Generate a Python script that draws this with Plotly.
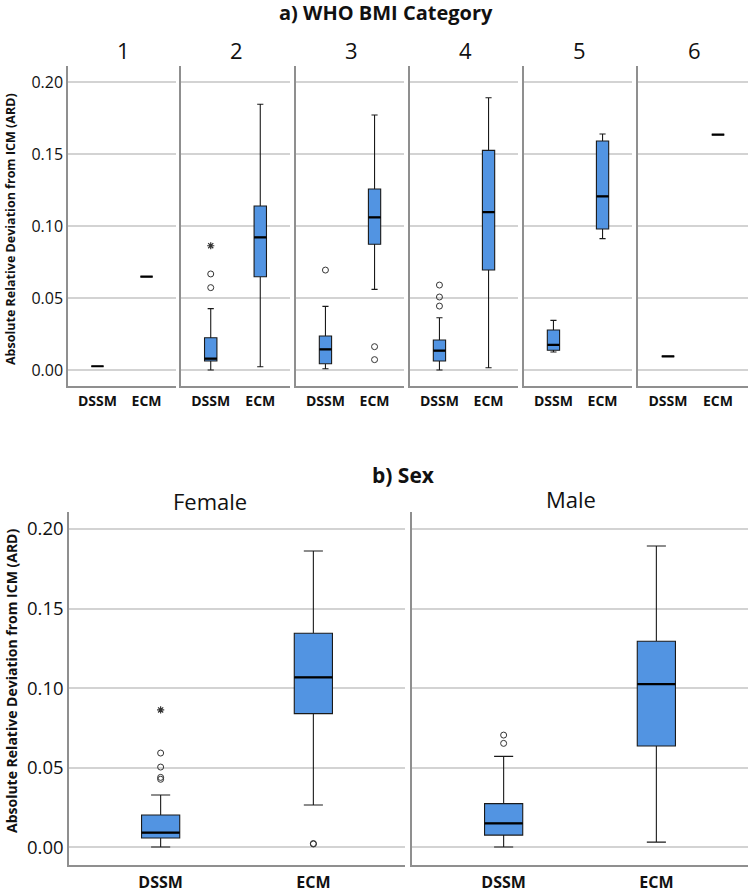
import plotly.graph_objects as go

W, H = 749, 892

METHODS = ["DSSM", "ECM"]

# ---- a) WHO BMI Category ----
BMI_CATEGORIES = ["1", "2", "3", "4", "5", "6"]
dssm_low  = [0.0026, 0.0000, 0.0009, 0.0000, 0.0125, 0.0095]
dssm_q1   = [0.0026, 0.0063, 0.0044, 0.0063, 0.0137, 0.0095]
dssm_med  = [0.0026, 0.0079, 0.0144, 0.0134, 0.0174, 0.0095]
dssm_q3   = [0.0026, 0.0224, 0.0236, 0.0208, 0.0278, 0.0095]
dssm_high = [0.0026, 0.0426, 0.0442, 0.0363, 0.0345, 0.0095]
ecm_low   = [0.0648, 0.0023, 0.0560, 0.0016, 0.0912, 0.1634]
ecm_q1    = [0.0648, 0.0648, 0.0873, 0.0694, 0.0979, 0.1634]
ecm_med   = [0.0648, 0.0921, 0.1060, 0.1097, 0.1206, 0.1634]
ecm_q3    = [0.0648, 0.1139, 0.1257, 0.1525, 0.1590, 0.1634]
ecm_high  = [0.0648, 0.1845, 0.1771, 0.1891, 0.1639, 0.1634]
dssm_outliers = [[], [0.0667, 0.0572], [0.0694], [0.0590, 0.0507, 0.0444], [], []]
dssm_extremes = [[], [0.0863], [], [], [], []]
ecm_outliers  = [[], [], [0.0162, 0.0072], [], [], []]
ecm_extremes  = [[], [], [], [], [], []]

# ---- b) Sex ----
SEX = ["Female", "Male"]
sx_dssm_low  = [0.0000, 0.0000]
sx_dssm_q1   = [0.0057, 0.0075]
sx_dssm_med  = [0.0090, 0.0149]
sx_dssm_q3   = [0.0201, 0.0273]
sx_dssm_high = [0.0327, 0.0570]
sx_ecm_low   = [0.0264, 0.0031]
sx_ecm_q1    = [0.0839, 0.0635]
sx_ecm_med   = [0.1067, 0.1025]
sx_ecm_q3    = [0.1344, 0.1294]
sx_ecm_high  = [0.1862, 0.1893]
sx_dssm_outliers = [[0.0591, 0.0503, 0.0438, 0.0426], [0.0704, 0.0652]]
sx_dssm_extremes = [[0.0862], []]
sx_ecm_outliers  = [[0.0019, 0.0022], []]
sx_ecm_extremes  = [[], []]

Y_TICKS = [0.0, 0.05, 0.10, 0.15, 0.20]
Y_TITLE = "Absolute Relative Deviation from ICM (ARD)"

BOX_FILL = "rgb(82,148,226)"
BOX_LINE = "#1a1a1a"
GRID = "#d3d3d3"
AXLINE = "#8f8f8f"
FONT = "Open Sans"

fig = go.Figure()

def px_x(p):
    return p / W

def px_y(p):
    return 1 - p / H

top_dom_x = [(68, 176), (181, 290), (296, 404), (410, 518), (524, 632), (638, 748)]
top_dom_y = (66, 386)
bot_dom_x = [(69, 405), (412, 748)]
bot_dom_y = (512, 865)

def add_panel(idx, low, q1, med, q3, high, outl, extr):
    xa = "x" if idx == 1 else f"x{idx}"
    ya = "y" if idx == 1 else f"y{idx}"
    fig.add_trace(go.Box(
        x=METHODS, q1=q1, median=med, q3=q3, lowerfence=low, upperfence=high,
        boxpoints=False, fillcolor=BOX_FILL, line=dict(color=BOX_LINE, width=1.1),
        width=0.25, whiskerwidth=0.5, xaxis=xa, yaxis=ya, showlegend=False,
        hoverinfo="skip"))
    # thicker median line drawn as a degenerate box at the median
    fig.add_trace(go.Box(
        x=METHODS, q1=med, median=med, q3=med, lowerfence=med, upperfence=med,
        boxpoints=False, fillcolor="rgba(0,0,0,0)", line=dict(color="#000", width=2.2),
        width=0.25, whiskerwidth=0.5, xaxis=xa, yaxis=ya, showlegend=False,
        hoverinfo="skip"))
    ox, oy, ex, ey = [], [], [], []
    for m, lst in zip(METHODS, outl):
        ox += [m] * len(lst); oy += lst
    for m, lst in zip(METHODS, extr):
        ex += [m] * len(lst); ey += lst
    if oy:
        fig.add_trace(go.Scatter(x=ox, y=oy, mode="markers", xaxis=xa, yaxis=ya,
                                 marker=dict(symbol="circle-open", size=6,
                                             color="#333", line=dict(width=1)),
                                 showlegend=False, hoverinfo="skip"))
    if ey:
        fig.add_trace(go.Scatter(x=ex, y=ey, mode="markers", xaxis=xa, yaxis=ya,
                                 marker=dict(symbol="asterisk-open", size=6,
                                             color="#333", line=dict(width=1.2, color="#333")),
                                 showlegend=False, hoverinfo="skip"))

for i in range(6):
    add_panel(i + 1, [dssm_low[i], ecm_low[i]], [dssm_q1[i], ecm_q1[i]],
              [dssm_med[i], ecm_med[i]], [dssm_q3[i], ecm_q3[i]],
              [dssm_high[i], ecm_high[i]],
              [dssm_outliers[i], ecm_outliers[i]], [dssm_extremes[i], ecm_extremes[i]])
for j in range(2):
    add_panel(7 + j, [sx_dssm_low[j], sx_ecm_low[j]], [sx_dssm_q1[j], sx_ecm_q1[j]],
              [sx_dssm_med[j], sx_ecm_med[j]], [sx_dssm_q3[j], sx_ecm_q3[j]],
              [sx_dssm_high[j], sx_ecm_high[j]],
              [sx_dssm_outliers[j], sx_ecm_outliers[j]], [sx_dssm_extremes[j], sx_ecm_extremes[j]])

layout = dict(width=W, height=H, margin=dict(l=0, r=0, t=0, b=0),
              paper_bgcolor="white", plot_bgcolor="white", showlegend=False,
              boxmode="overlay",
              font=dict(family=FONT, color="#000"))

def axes(idx, dx, dy, show_y, ysize, xsize, yrange, xstand):
    kx = "xaxis" if idx == 1 else f"xaxis{idx}"
    ky = "yaxis" if idx == 1 else f"yaxis{idx}"
    ya = "y" if idx == 1 else f"y{idx}"
    xa = "x" if idx == 1 else f"x{idx}"
    layout[kx] = dict(domain=[px_x(dx[0]), px_x(dx[1])], anchor=ya, type="category",
                      categoryorder="array", categoryarray=METHODS,
                      range=[-0.6, 1.6], showline=True, linecolor=AXLINE, linewidth=1.5,
                      showgrid=False, zeroline=False, ticks="", fixedrange=True,
                      ticklabelstandoff=xstand,
                      tickfont=dict(size=xsize, weight="bold", family=FONT, color="#111"))
    layout[ky] = dict(domain=[px_y(dy[1]), px_y(dy[0])], anchor=xa, range=yrange,
                      showline=True, linecolor=AXLINE, linewidth=1.5,
                      showgrid=True, gridcolor=GRID, gridwidth=1.5, zeroline=False,
                      tickvals=Y_TICKS, tickformat=".2f", ticks="", fixedrange=True,
                      showticklabels=show_y,
                      tickfont=dict(size=ysize, family=FONT, color="#111"))

for i in range(6):
    axes(i + 1, top_dom_x[i], top_dom_y, i == 0, 16, 14, [-0.0111, 0.2111], 1)
for j in range(2):
    axes(7 + j, bot_dom_x[j], bot_dom_y, j == 0, 18.5, 16, [-0.0113, 0.2107], 2)

annotations = []
annotations.append(dict(text="<b>a) WHO BMI Category</b>", x=px_x(386), y=px_y(13),
                        xref="paper", yref="paper", showarrow=False,
                        font=dict(size=20, family=FONT, color="#111"),
                        xanchor="center", yanchor="middle"))
for i, c in enumerate(BMI_CATEGORIES):
    cx = (top_dom_x[i][0] + top_dom_x[i][1]) / 2
    annotations.append(dict(text=c, x=px_x(cx + 1), y=px_y(50), xref="paper", yref="paper",
                            showarrow=False, font=dict(size=22, family=FONT, color="#111"),
                            xanchor="center", yanchor="middle"))
annotations.append(dict(text="<b>b) Sex</b>", x=px_x(403), y=px_y(475),
                        xref="paper", yref="paper", showarrow=False,
                        font=dict(size=21, family=FONT, color="#111"),
                        xanchor="center", yanchor="middle"))
for s, cx, cy in zip(SEX, [210, 571], [501, 499]):
    annotations.append(dict(text=s, x=px_x(cx), y=px_y(cy), xref="paper", yref="paper",
                            showarrow=False, font=dict(size=22, family=FONT, color="#111"),
                            xanchor="center", yanchor="middle"))
annotations.append(dict(text=f"<b>{Y_TITLE}</b>", x=px_x(10), y=px_y(229), textangle=-90,
                        xref="paper", yref="paper", showarrow=False,
                        font=dict(size=12.5, family=FONT, color="#111"),
                        xanchor="center", yanchor="middle"))
annotations.append(dict(text=f"<b>{Y_TITLE}</b>", x=px_x(11), y=px_y(681), textangle=-90,
                        xref="paper", yref="paper", showarrow=False,
                        font=dict(size=14, family=FONT, color="#111"),
                        xanchor="center", yanchor="middle"))
layout["annotations"] = annotations

fig.update_layout(**layout)
fig.write_html("out.html", config={"displayModeBar": False},
               post_script="document.body.style.margin='0';document.body.style.overflow='hidden';")
